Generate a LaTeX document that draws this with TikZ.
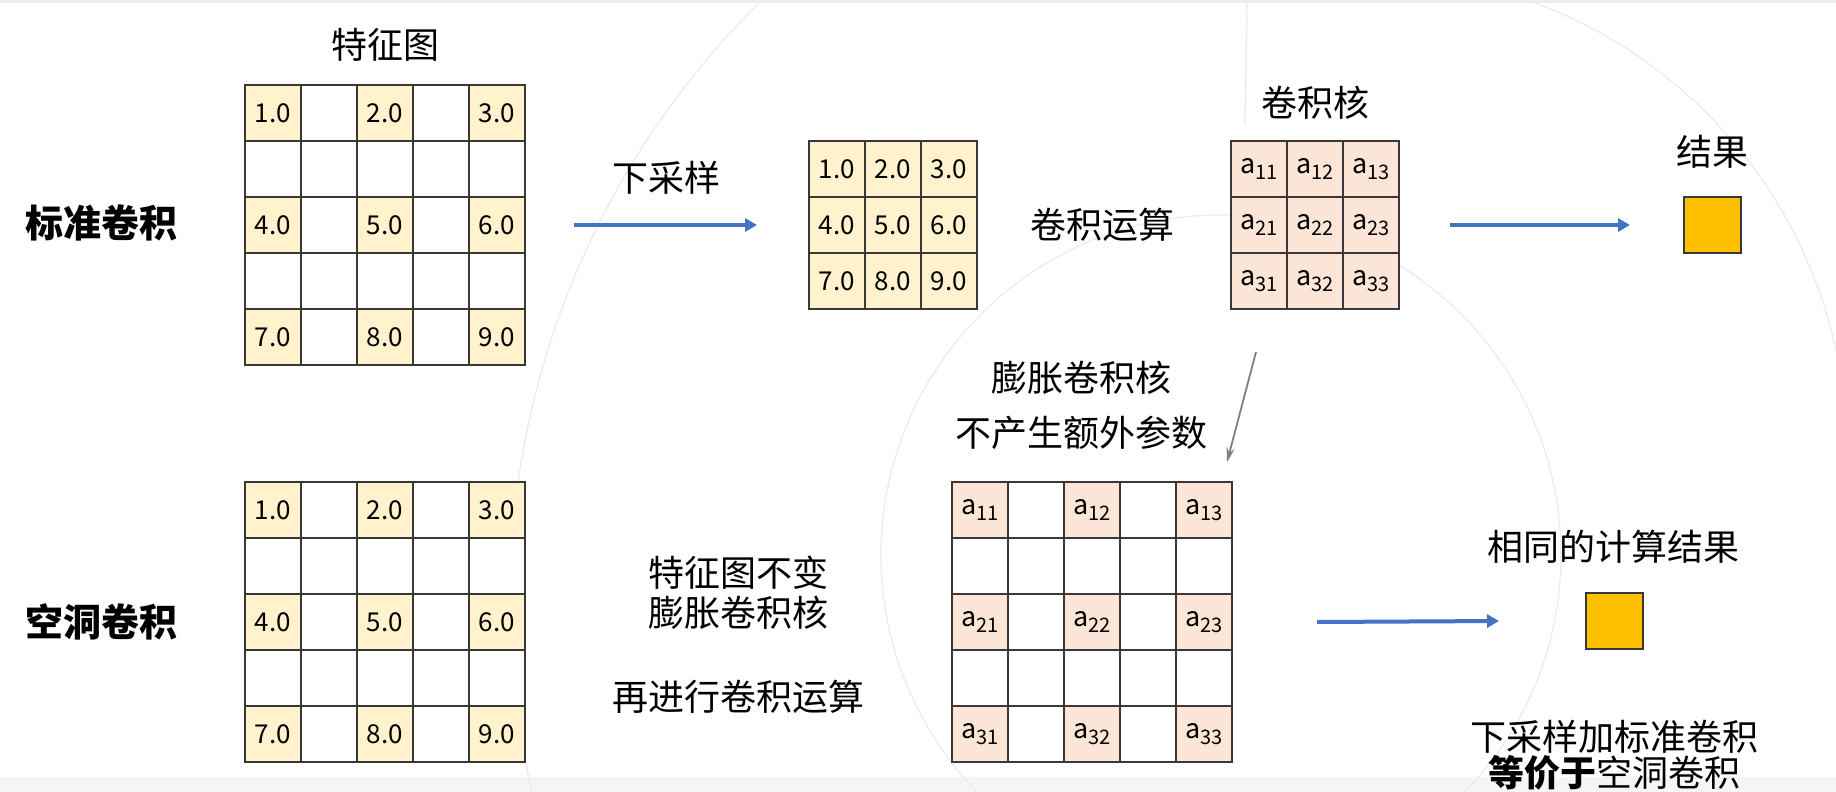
\documentclass[tikz,border=0pt]{standalone}
\usepackage{fontspec}
\setmainfont{Noto Sans CJK SC}
\usetikzlibrary{arrows.meta}
\definecolor{creamc}{HTML}{FFF2CC}
\definecolor{pinkc}{HTML}{FBE5D6}
\definecolor{resc}{HTML}{FFC000}
\definecolor{bluea}{HTML}{4472C4}
\definecolor{linec}{HTML}{383838}
\definecolor{arcc}{HTML}{EBEBEB}
\definecolor{grayarrow}{HTML}{7F7F7F}
\newcommand{\akk}[2]{{\fontsize{27}{30}\selectfont a}\raisebox{-6pt}{\fontsize{20}{20}\selectfont #1#2}}
\tikzset{
  cellbox/.style={minimum width=56pt, minimum height=56pt, outer sep=0pt,
    inner sep=0pt, anchor=north west, font=\fontsize{26}{30}\selectfont},
  featc/.style={cellbox, fill=creamc},
  kerc/.style={cellbox, fill=pinkc},
  emptyc/.style={cellbox, fill=white},
  gridln/.style={draw=linec, line width=2pt},
  lab/.style={inner sep=0pt, font=\fontsize{36}{40}\selectfont},
  rowlab/.style={inner sep=0pt, font=\fontsize{38}{44}\selectfont\bfseries},
  blueline/.style={draw=bluea, line width=4pt, -{Triangle[length=12pt,width=13pt]}},
  grayline/.style={draw=grayarrow, line width=1.8pt, -{Stealth[length=14pt,width=8pt]}},
  resbox/.style={draw=linec, line width=2pt, fill=resc, minimum width=57pt, minimum height=56pt, inner sep=0pt},
  arcline/.style={draw=arcc, line width=1.2pt},
}
\begin{document}
\begin{tikzpicture}[x=1pt,y=-1pt]
\useasboundingbox (0,0) rectangle (1836,792);
\fill[white] (0,0) rectangle (1836,792);
\fill[gray!14] (0,0) rectangle (1836,3);
\fill[gray!8] (0,777) rectangle (1836,792);
% faint background arcs
\begin{scope}
\clip (0,0) rectangle (1836,792);
\draw[arcline] (1221,555) circle[radius=340pt];
\draw[arcline] (762,0) arc[start angle=134.4, end angle=193.2, radius=840pt];
\draw[arcline] (1527,0) arc[start angle=70.6, end angle=-5, radius=479pt];
\draw[arcline] (1247,3) -- (1245,125);
\end{scope}

% ---------- top row: standard convolution ----------
\node[rowlab] (lstd) at (101,223) {标准卷积};
\node[lab] (tfeat) at (385,45) {特征图};
\foreach \r in {1,...,5}{\foreach \c in {1,...,5}{
  \pgfmathtruncatemacro\odd{and(isodd(\r),isodd(\c))}
  \pgfmathtruncatemacro\val{3*(\r-1)/2+(\c-1)/2+1}
  \ifnum\odd=1
    \node[featc] (A-\r-\c) at ({245+(\c-1)*56},{85+(\r-1)*56}) {\val.0};
  \else
    \node[emptyc] (A-\r-\c) at ({245+(\c-1)*56},{85+(\r-1)*56}) {};
  \fi
}}
\foreach \r in {1,...,5}{\foreach \c in {1,...,5}{
  \draw[gridln] (A-\r-\c.north west) rectangle (A-\r-\c.south east);}}

\node[lab] (tdown) at (666,178) {下采样};
\foreach \r in {1,2,3}{\foreach \c in {1,2,3}{
  \pgfmathtruncatemacro\val{3*(\r-1)+\c}
  \node[featc] (B-\r-\c) at ({809+(\c-1)*56},{141+(\r-1)*56}) {\val.0};
}}
\foreach \r in {1,2,3}{\foreach \c in {1,2,3}{
  \draw[gridln] (B-\r-\c.north west) rectangle (B-\r-\c.south east);}}

\node[lab] (tconv) at (1102,225) {卷积运算};
\node[lab] (tker) at (1315,103) {卷积核};
\foreach \r in {1,2,3}{\foreach \c in {1,2,3}{
  \node[kerc] (K-\r-\c) at ({1231+(\c-1)*56},{141+(\r-1)*56}) {\akk{\r}{\c}};
}}
\foreach \r in {1,2,3}{\foreach \c in {1,2,3}{
  \draw[gridln] (K-\r-\c.north west) rectangle (K-\r-\c.south east);}}

\node[lab] (tres) at (1712,152) {结果};
\node[resbox] (R1) at (1712.5,225) {};

\draw[blueline] ([xshift=49pt]A-3-5.east) -- ([xshift=-52pt]B-2-1.west);
\draw[blueline] ([xshift=51pt]K-2-3.east) -- ([xshift=-53pt]R1.west);

% ---------- middle labels and gray arrow ----------
\node[lab] (tdil1) at (1081,378) {膨胀卷积核};
\node[lab] (tnoparam) at (1081,433) {不产生额外参数};
\coordinate (gs) at (1256,352);
\coordinate (ge) at (1227,462);
\draw[grayline] (gs) -- (ge);

% ---------- bottom row: dilated convolution ----------
\node[rowlab] (ldil) at (101,622) {空洞卷积};
\foreach \r in {1,...,5}{\foreach \c in {1,...,5}{
  \pgfmathtruncatemacro\odd{and(isodd(\r),isodd(\c))}
  \pgfmathtruncatemacro\val{3*(\r-1)/2+(\c-1)/2+1}
  \ifnum\odd=1
    \node[featc] (C-\r-\c) at ({245+(\c-1)*56},{482+(\r-1)*56}) {\val.0};
  \else
    \node[emptyc] (C-\r-\c) at ({245+(\c-1)*56},{482+(\r-1)*56}) {};
  \fi
}}
\foreach \r in {1,...,5}{\foreach \c in {1,...,5}{
  \draw[gridln] (C-\r-\c.north west) rectangle (C-\r-\c.south east);}}

\node[lab] (tkeep) at (738,573) {特征图不变};
\node[lab] (tdil2) at (738,613) {膨胀卷积核};
\node[lab] (tagain) at (738,697) {再进行卷积运算};
\foreach \r in {1,...,5}{\foreach \c in {1,...,5}{
  \pgfmathtruncatemacro\odd{and(isodd(\r),isodd(\c))}
  \pgfmathtruncatemacro\ri{(\r+1)/2}
  \pgfmathtruncatemacro\ci{(\c+1)/2}
  \ifnum\odd=1
    \node[kerc] (D-\r-\c) at ({952+(\c-1)*56},{482+(\r-1)*56}) {\akk{\ri}{\ci}};
  \else
    \node[emptyc] (D-\r-\c) at ({952+(\c-1)*56},{482+(\r-1)*56}) {};
  \fi
}}
\foreach \r in {1,...,5}{\foreach \c in {1,...,5}{
  \draw[gridln] (D-\r-\c.north west) rectangle (D-\r-\c.south east);}}

\node[lab] (tsame) at (1613,547) {相同的计算结果};
\node[resbox] (R2) at (1614.5,621) {};
\draw[blueline] ([xshift=85pt]D-3-5.east) -- ([xshift=-86pt]R2.west);
\node[lab] (tsum1) at (1614,737) {下采样加标准卷积};
\node[lab] (tsum2) at (1614,773) {\textbf{等价于}空洞卷积};
\end{tikzpicture}
\end{document}
